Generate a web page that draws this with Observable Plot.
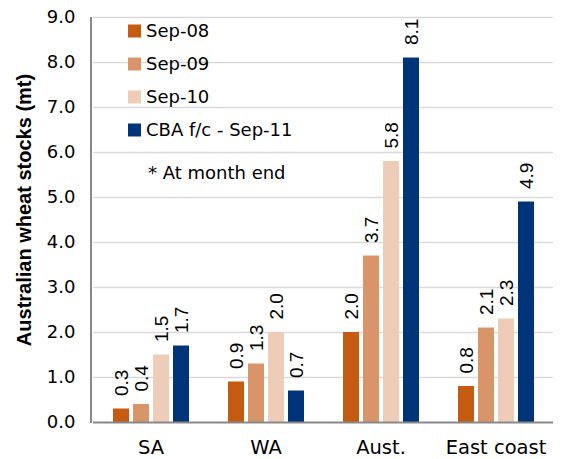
<!DOCTYPE html>
<html><head><meta charset="utf-8">
<script src="https://cdn.jsdelivr.net/npm/d3@7"></script>
<script src="https://cdn.jsdelivr.net/npm/@observablehq/plot@0.6"></script>
<style>body{margin:0;background:#fff}</style>
</head><body><div id="chart"></div>
<script>
const regions = ["SA", "WA", "Aust.", "East coast"];
const seriesNames = ["Sep-08", "Sep-09", "Sep-10", "CBA f/c - Sep-11"];
const sep08 = [0.3, 0.9, 2.0, 0.8];
const sep09 = [0.4, 1.3, 3.7, 2.1];
const sep10 = [1.5, 2.0, 5.8, 2.3];
const sep11 = [1.7, 0.7, 8.1, 4.9];
const seriesColors = ["#C55A11", "#D9956A", "#EECDB8", "#003478"];
const yTicks = [0, 1, 2, 3, 4, 5, 6, 7, 8, 9];
const yTitle = "Australian wheat stocks (mt)";
const footnote = "* At month end";

const seriesValues = [sep08, sep09, sep10, sep11];
const rows = [];
seriesNames.forEach((s, i) => regions.forEach((r, j) => rows.push({region: r, series: s, value: seriesValues[i][j]})));

const plot = Plot.plot({
  width: 565, height: 459,
  marginTop: 17, marginBottom: 37, marginLeft: 91, marginRight: 11,
  style: {fontFamily: "'DejaVu Sans', sans-serif", fontSize: "18px", color: "#000", background: "#fff", overflow: "visible"},
  fx: {domain: regions, paddingInner: 0, paddingOuter: 0, label: null, tickSize: 0, tickPadding: 18},
  x: {domain: seriesNames, axis: null, paddingInner: 0.2, paddingOuter: 0.935},
  y: {domain: [0, 9], ticks: yTicks, tickFormat: d => d.toFixed(1), tickSize: 0, tickPadding: 18, label: null},
  color: {domain: seriesNames, range: seriesColors},
  marks: [
    Plot.ruleY(yTicks.filter(d => d > 0), {stroke: "#d9d9d9", strokeWidth: 1.5}),
    Plot.barY(rows, {fx: "region", x: "series", y: "value", fill: "series"}),
    Plot.text(rows, {fx: "region", x: "series", y: "value", text: d => d.value.toFixed(1),
      rotate: -90, textAnchor: "start", lineAnchor: "middle", dy: -13,
      fontSize: 19, fontFamily: "'Liberation Sans', Arial, sans-serif", fill: "#000"}),
    Plot.ruleY([0], {stroke: "#888", strokeWidth: 2})
  ]
});

const svgNode = plot.tagName.toLowerCase() === "svg" ? plot : plot.querySelector("svg");
const svg = d3.select(svgNode);
svg.selectAll('g[aria-label^="fx-axis"] text').attr("font-size", 19.5);

// left axis line
const yr = plot.scale("y").range;
svg.append("line")
  .attr("x1", 91).attr("x2", 91)
  .attr("y1", yr[0] + 1).attr("y2", yr[1])
  .attr("stroke", "#888").attr("stroke-width", 2);

// y title
svg.append("text")
  .attr("transform", "translate(31,210) rotate(-90)")
  .attr("text-anchor", "middle")
  .attr("font-family", "'Liberation Sans', Arial, sans-serif")
  .attr("font-weight", "bold")
  .attr("font-size", 20)
  .attr("fill", "#000")
  .text(yTitle);

// legend
const lg = svg.append("g")
  .attr("font-family", "'DejaVu Sans', sans-serif")
  .attr("font-size", 18)
  .attr("text-anchor", "start");
seriesNames.forEach((s, i) => {
  const cy = 31 + i * 33;
  lg.append("rect").attr("x", 128).attr("y", cy - 6.5).attr("width", 13).attr("height", 13).attr("fill", seriesColors[i]);
  lg.append("text").attr("x", 146).attr("y", cy).attr("dy", "0.35em").attr("text-anchor", "start").attr("fill", "#000").text(s);
});
lg.append("text").attr("x", 148).attr("y", 173).attr("dy", "0.35em").attr("text-anchor", "start").attr("fill", "#000").text(footnote);

document.getElementById("chart").appendChild(plot);
</script>
</body></html>
